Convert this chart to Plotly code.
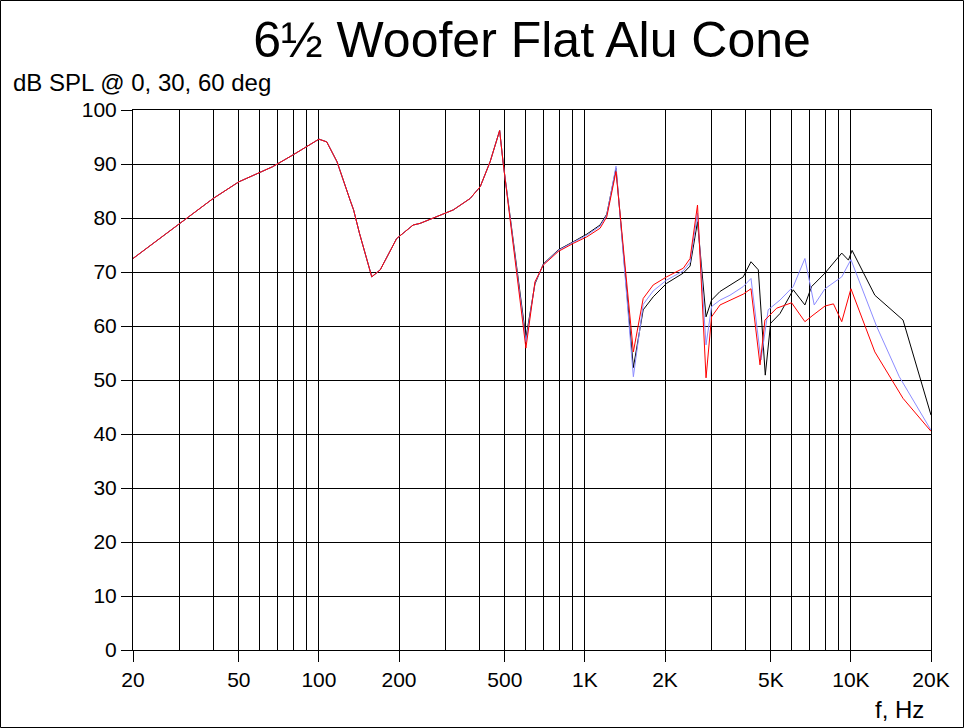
import plotly.graph_objects as go

# Common low-frequency part (all angles coincide)
f_low = [20, 30, 40, 50, 67, 80, 100, 107, 117, 131, 135, 142, 158, 170, 196, 226, 240, 320, 370, 404, 440, 478, 493]
spl_low = [72.5, 79.0, 83.6, 86.7, 89.5, 91.7, 94.6, 94.1, 90.4, 83.3, 81.5, 77.2, 69.1, 70.4, 76.2, 78.7, 79.0, 81.5, 83.6, 85.8, 90.4, 96.2, 90.1]

# 0 deg (black)
f_0 = [600, 649, 698, 794, 904, 1016, 1140, 1208, 1309, 1521, 1656, 1806, 2028, 2343, 2485, 2650, 2853,
       2993, 3221, 3510, 3937, 4210, 4486, 4764, 4990, 5410, 6069, 6714, 7113, 7990, 9236, 9785, 10100,
       12300, 15700, 20000]
spl_0 = [57.8, 67.8, 71.5, 74.1, 75.6, 77.0, 78.7, 80.7, 89.2, 52.3, 63.0, 65.4, 67.9, 69.8, 71.1, 79.3, 61.7,
         64.8, 66.4, 67.6, 69.1, 71.9, 70.4, 50.9, 60.5, 62.3, 66.7, 63.9, 67.3, 69.8, 73.5, 72.2, 74.0,
         65.7, 61.1, 43.5]

# 30 deg (blue)
f_30 = [600, 649, 698, 794, 904, 1016, 1140, 1208, 1309, 1521, 1656, 1806, 2028, 2343, 2485, 2650, 2853,
        2993, 3221, 3510, 3937, 4210, 4590, 4886, 5410, 6069, 6714, 7278, 7990, 9236, 10000,
        12500, 15200, 20000]
spl_30 = [57.0, 68.0, 71.4, 74.0, 75.5, 76.8, 78.5, 80.5, 89.6, 50.6, 64.0, 66.5, 68.5, 70.2, 71.8, 80.9, 56.5,
          63.6, 64.8, 65.7, 67.3, 68.8, 53.7, 63.0, 64.8, 67.3, 72.5, 63.9, 66.9, 69.1, 72.3,
          59.9, 50.6, 40.7]

# 60 deg (red)
f_60 = [600, 649, 698, 794, 904, 1016, 1140, 1208, 1309, 1521, 1656, 1806, 2028, 2343, 2485, 2650, 2853,
        2993, 3221, 3510, 3937, 4210, 4553, 4750, 5259, 5984, 6714, 7200, 7990, 8596, 9236, 10000,
        12300, 15700, 20000]
spl_60 = [55.9, 68.2, 71.3, 73.8, 75.3, 76.5, 78.1, 80.2, 88.6, 55.2, 65.1, 67.6, 69.1, 70.7, 72.5, 82.4, 50.4,
          61.7, 63.9, 64.8, 65.9, 66.9, 52.8, 61.1, 63.3, 64.3, 60.8, 62.0, 63.7, 64.1, 60.8, 66.9,
          55.2, 46.6, 40.5]

major_ticks = [20, 50, 100, 200, 500, 1000, 2000, 5000, 10000, 20000]
major_labels = ["20", "50", "100", "200", "500", "1K", "2K", "5K", "10K", "20K"]
minor_ticks = [30, 40, 60, 70, 80, 90, 300, 400, 600, 700, 800, 900,
               3000, 4000, 6000, 7000, 8000, 9000]
y_ticks = list(range(0, 101, 10))

FONT = "Liberation Sans, Arial, sans-serif"

fig = go.Figure()
for fx, sy, col in [(f_0, spl_0, "#000000"), (f_30, spl_30, "#8c8cff"), (f_60, spl_60, "#ff0000")]:
    fig.add_trace(go.Scatter(x=f_low + fx, y=spl_low + sy, mode="lines",
                             line=dict(color=col, width=1), showlegend=False,
                             hoverinfo="skip"))

fig.update_layout(
    width=964, height=728,
    margin=dict(l=133, r=33, t=110, b=78),
    paper_bgcolor="white", plot_bgcolor="white",
    font=dict(family=FONT, size=21, color="black"),
    title=dict(text="6½ Woofer Flat Alu Cone", font=dict(size=50, family=FONT, color="black"),
               x=0.5, xref="paper", xanchor="center", y=1 - 39 / 728, yanchor="middle", yref="container"),
    showlegend=False,
)

fig.update_xaxes(
    type="log", range=[1.30103, 4.30103],
    tickmode="array", tickvals=major_ticks, ticktext=major_labels,
    ticks="outside", ticklen=11, tickcolor="black", tickwidth=1,
    showgrid=True, gridcolor="black", gridwidth=1,
    showline=True, linecolor="black", linewidth=1, mirror=True,
    zeroline=False,
    tickfont=dict(size=21, family=FONT),
    minor=dict(tickmode="array", tickvals=minor_ticks, showgrid=True,
               gridcolor="black", gridwidth=1, ticks=""),
)
fig.update_yaxes(
    range=[0, 100], tickmode="array", tickvals=y_ticks,
    ticks="outside", ticklen=11, tickcolor="black", tickwidth=1,
    showgrid=True, gridcolor="black", gridwidth=1,
    showline=True, linecolor="black", linewidth=1, mirror=True,
    zeroline=False,
    tickfont=dict(size=21, family=FONT),
)

fig.add_annotation(text="dB SPL @ 0, 30, 60 deg", xref="paper", yref="paper",
                   x=(11 - 133) / 798, y=(650 - 83) / 540, xanchor="left", yanchor="middle",
                   showarrow=False, font=dict(size=24, family=FONT, color="black"))
fig.add_annotation(text="f, Hz", xref="paper", yref="paper",
                   x=(926 - 133) / 798, y=(650 - 709) / 540, xanchor="right", yanchor="middle",
                   showarrow=False, font=dict(size=24, family=FONT, color="black"))

# Outer frame around the whole image
fig.add_shape(type="rect", xref="paper", yref="paper",
              x0=(0.5 - 133) / 798, x1=(963.5 - 133) / 798,
              y0=(650 - 727.5) / 540, y1=(650 - 0.5) / 540,
              line=dict(color="black", width=1), fillcolor="rgba(0,0,0,0)", layer="above")

fig.write_html("out.html", config={"displayModeBar": False},
               post_script="document.body.style.margin='0';document.body.style.padding='0';")
